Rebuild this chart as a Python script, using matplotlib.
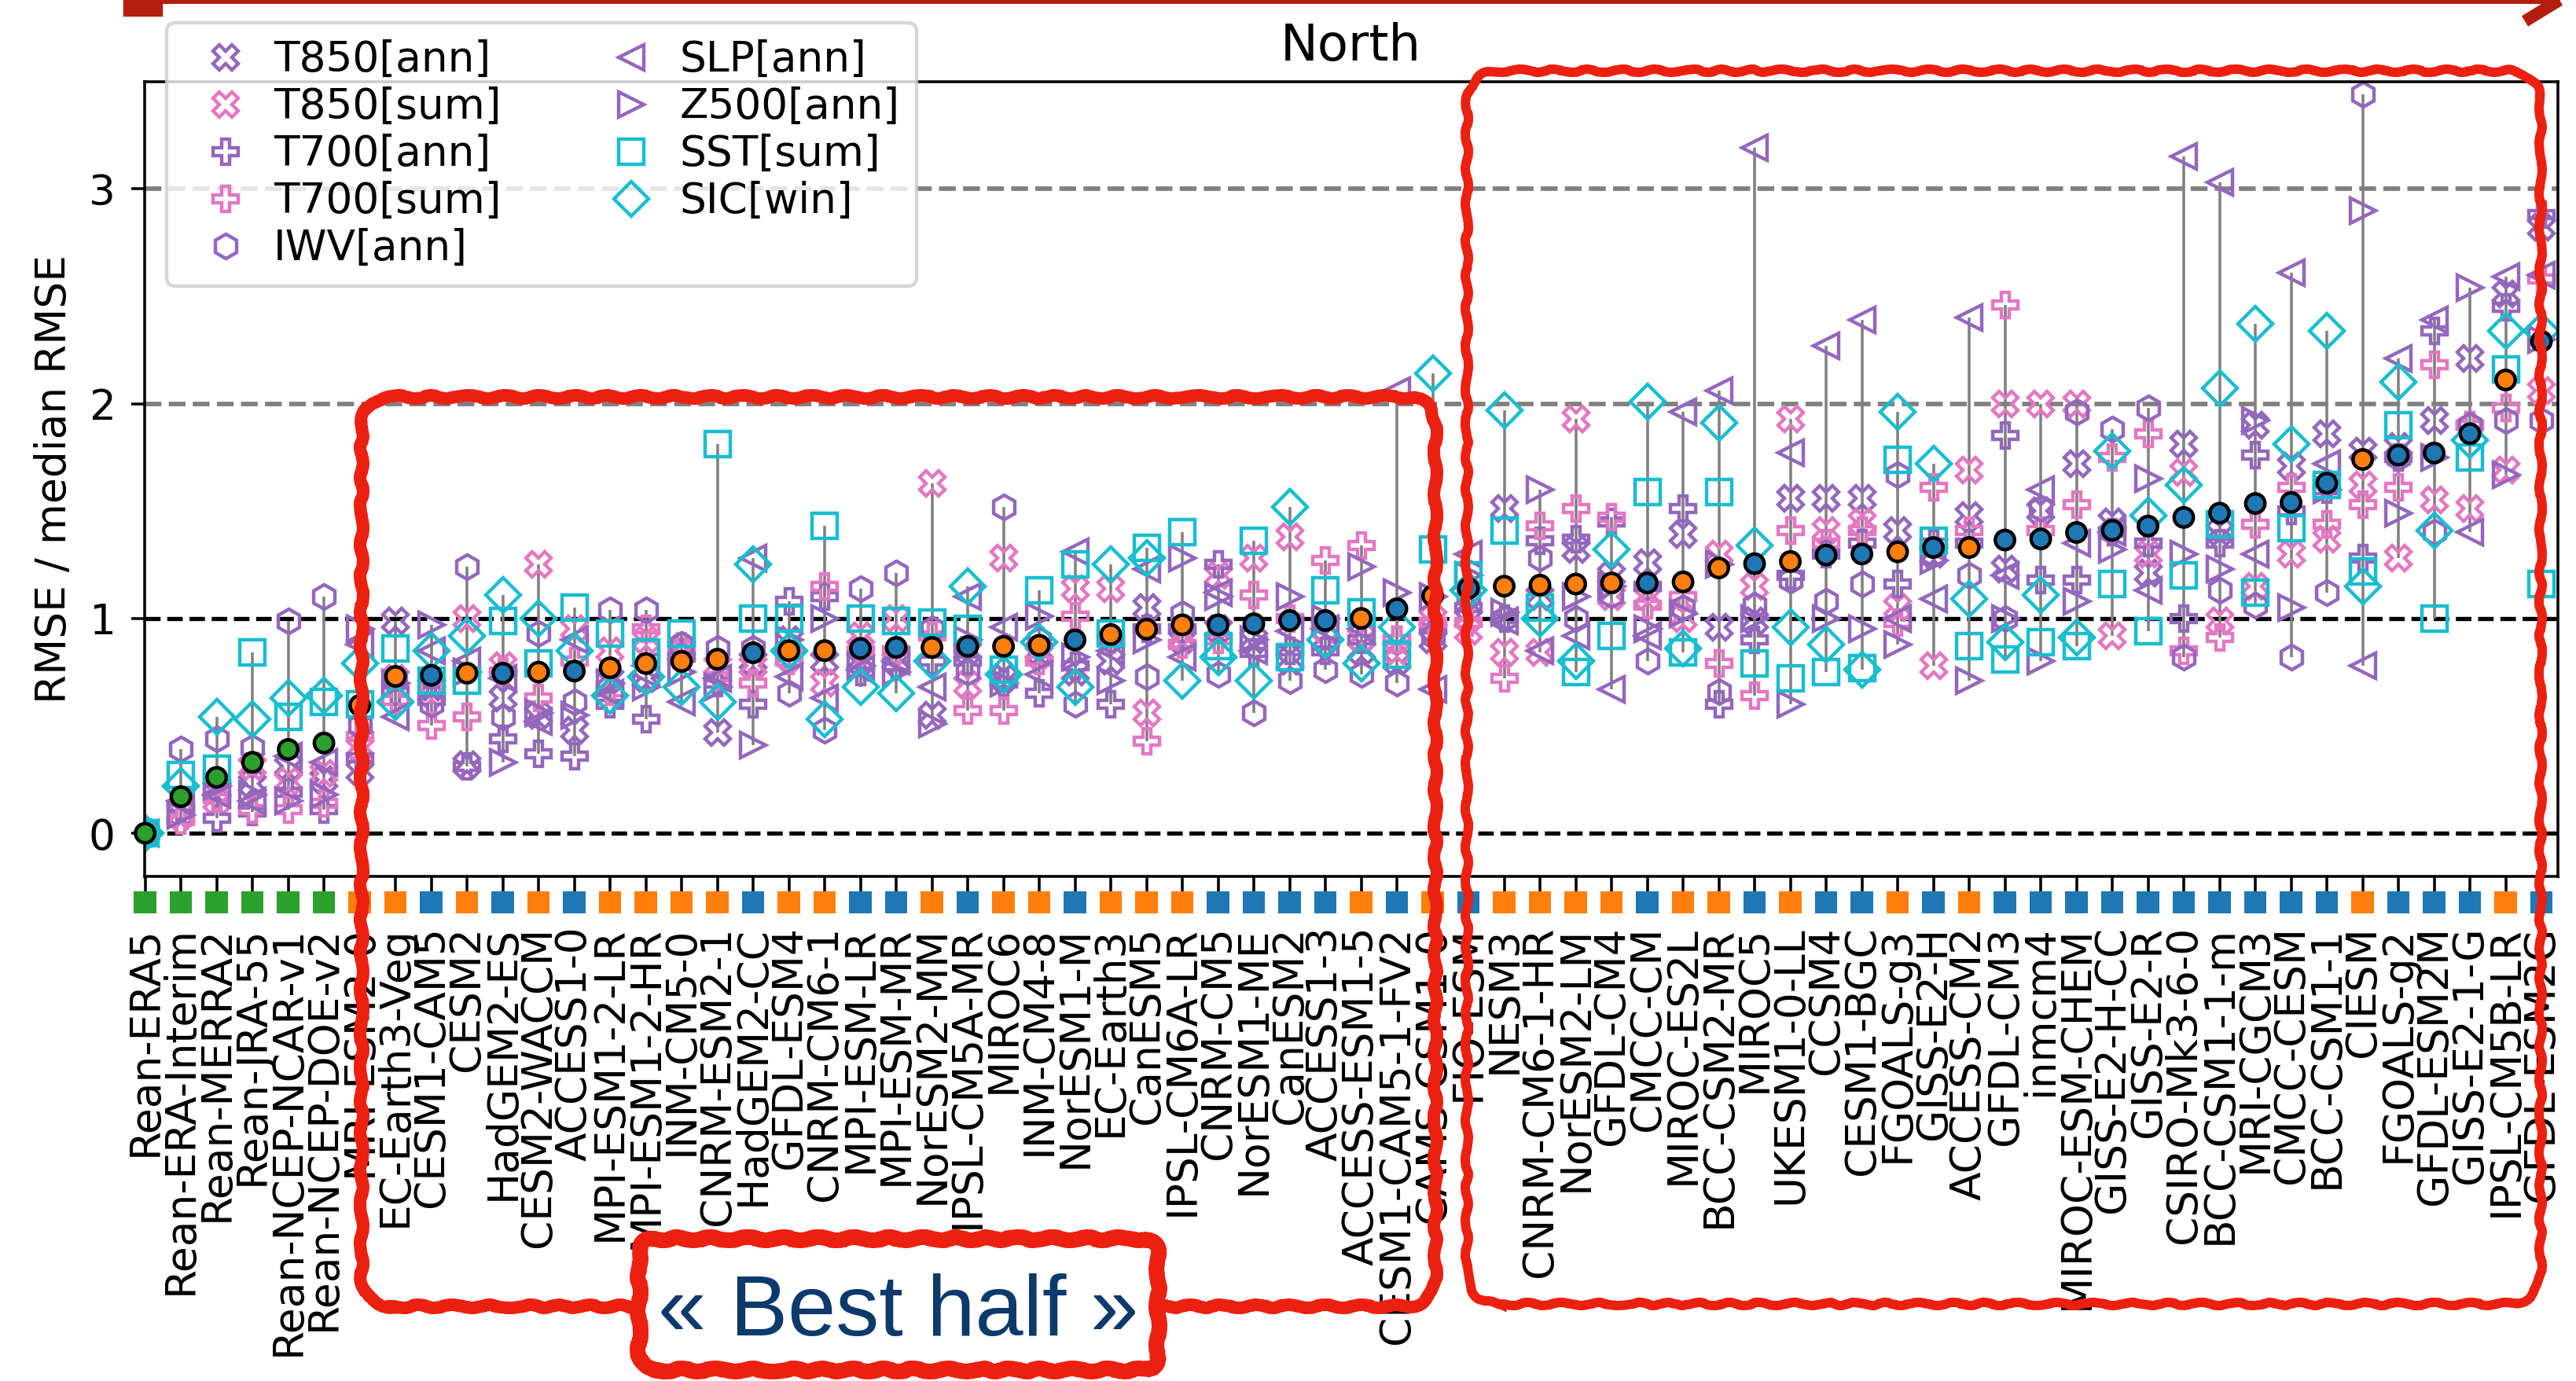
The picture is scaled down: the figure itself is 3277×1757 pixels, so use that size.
import numpy as np
import matplotlib
matplotlib.use('Agg')
import matplotlib.pyplot as plt
from matplotlib.patches import FancyBboxPatch, Rectangle
from matplotlib.lines import Line2D
from matplotlib.transforms import IdentityTransform

# models sorted by mean normalised RMSE (North)
models = ['Rean-ERA5', 'Rean-ERA-Interim', 'Rean-MERRA2', 'Rean-JRA-55', 'Rean-NCEP-NCAR-v1',
          'Rean-NCEP-DOE-v2', 'MRI-ESM2-0', 'EC-Earth3-Veg', 'CESM1-CAM5', 'CESM2',
          'HadGEM2-ES', 'CESM2-WACCM', 'ACCESS1-0', 'MPI-ESM1-2-LR', 'MPI-ESM1-2-HR',
          'INM-CM5-0', 'CNRM-ESM2-1', 'HadGEM2-CC', 'GFDL-ESM4', 'CNRM-CM6-1',
          'MPI-ESM-LR', 'MPI-ESM-MR', 'NorESM2-MM', 'IPSL-CM5A-MR', 'MIROC6',
          'INM-CM4-8', 'NorESM1-M', 'EC-Earth3', 'CanESM5', 'IPSL-CM6A-LR',
          'CNRM-CM5', 'NorESM1-ME', 'CanESM2', 'ACCESS1-3', 'ACCESS-ESM1-5',
          'CESM1-CAM5-1-FV2', 'CAMS-CSM1-0', 'FIO-ESM', 'NESM3', 'CNRM-CM6-1-HR',
          'NorESM2-LM', 'GFDL-CM4', 'CMCC-CM', 'MIROC-ES2L', 'BCC-CSM2-MR',
          'MIROC5', 'UKESM1-0-LL', 'CCSM4', 'CESM1-BGC', 'FGOALS-g3',
          'GISS-E2-H', 'ACCESS-CM2', 'GFDL-CM3', 'inmcm4', 'MIROC-ESM-CHEM',
          'GISS-E2-H-CC', 'GISS-E2-R', 'CSIRO-Mk3-6-0', 'BCC-CSM1-1-m', 'MRI-CGCM3',
          'CMCC-CESM', 'BCC-CSM1-1', 'CIESM', 'FGOALS-g2', 'GFDL-ESM2M',
          'GISS-E2-1-G', 'IPSL-CM5B-LR', 'GFDL-ESM2G']

# R = reanalysis, 6 = CMIP6, 5 = CMIP5
group = list('RRRRRR66565656666566556566566655556565666656656556565555555555655565')

mean_rmse = [0, 0.17, 0.26, 0.33, 0.39, 0.42, 0.595, 0.73, 0.735, 0.745,
             0.745, 0.75, 0.755, 0.77, 0.79, 0.80, 0.81, 0.84, 0.85, 0.85,
             0.86, 0.865, 0.865, 0.87, 0.87, 0.875, 0.90, 0.925, 0.95, 0.97,
             0.97, 0.975, 0.99, 0.99, 1.00, 1.045, 1.105, 1.14, 1.15, 1.155,
             1.16, 1.165, 1.165, 1.17, 1.235, 1.255, 1.265, 1.295, 1.30, 1.31,
             1.33, 1.33, 1.365, 1.37, 1.40, 1.41, 1.43, 1.47, 1.49, 1.535,
             1.54, 1.63, 1.74, 1.76, 1.77, 1.86, 2.11, 2.29]

t850_ann = [0, 0.10, 0.20, 0.23, 0.31, 0.25, 0.29, 0.99, 0.68, 0.32,
            0.63, 0.55, 0.48, 0.72, 0.72, 0.86, 0.47, 0.80, 0.90, 0.80,
            0.80, 0.80, 0.55, 0.85, 0.72, 0.85, 0.75, 0.80, 1.05, 0.90,
            0.95, 0.90, 0.80, 0.90, 0.85, 0.80, 0.90, 1.00, 1.51, 1.10,
            1.32, 1.20, 1.26, 1.39, 0.96, 0.99, 1.56, 1.56, 1.56, 1.41,
            1.30, 1.48, 1.23, 1.50, 1.72, 1.45, 1.21, 1.81, 1.40, 1.90,
            1.71, 1.86, 1.78, 1.80, 1.92, 2.21, 2.51, 2.82]
t850_sum = [0, 0.08, 0.15, 0.31, 0.24, 0.28, 0.40, 0.72, 0.65, 1.00,
            0.78, 1.25, 0.95, 0.85, 0.90, 0.84, 0.78, 0.78, 0.82, 0.70,
            0.92, 1.00, 1.63, 0.69, 1.28, 0.83, 1.14, 1.14, 0.56, 0.92,
            1.20, 1.28, 1.38, 0.95, 0.91, 0.85, 1.00, 0.94, 0.84, 0.84,
            1.93, 1.10, 1.10, 1.00, 1.30, 1.15, 1.93, 1.41, 1.45, 1.05,
            0.78, 1.69, 2.00, 2.00, 2.00, 0.92, 1.30, 1.68, 0.99, 1.15,
            1.30, 1.37, 1.62, 1.28, 1.55, 1.51, 1.69, 2.06]
t700_ann = [0, 0.12, 0.07, 0.10, 0.19, 0.11, 0.35, 0.66, 0.62, 0.31,
            0.44, 0.37, 0.36, 0.60, 0.53, 0.82, 0.70, 0.60, 1.08, 1.10,
            0.75, 0.78, 0.80, 0.80, 0.70, 0.65, 0.78, 0.60, 0.95, 0.95,
            1.25, 0.84, 0.85, 0.85, 0.90, 0.90, 0.95, 1.05, 1.00, 1.36,
            1.37, 1.45, 1.15, 1.51, 0.60, 0.90, 1.20, 1.30, 1.35, 1.16,
            1.35, 1.35, 1.85, 1.18, 1.18, 1.40, 1.35, 1.00, 1.35, 1.76,
            1.50, 1.60, 1.28, 1.75, 2.34, 1.90, 2.45, 2.88]
t700_sum = [0, 0.06, 0.16, 0.11, 0.11, 0.14, 0.45, 0.62, 0.50, 0.54,
            0.75, 0.63, 0.80, 0.66, 0.95, 0.87, 0.73, 0.70, 0.80, 1.15,
            0.85, 0.85, 0.92, 0.57, 0.57, 0.80, 1.01, 0.90, 0.43, 0.88,
            0.90, 1.11, 1.00, 1.27, 1.34, 0.90, 0.98, 0.98, 0.72, 1.43,
            1.51, 1.47, 1.06, 1.10, 0.79, 0.64, 1.41, 1.35, 1.41, 0.98,
            1.61, 1.41, 2.46, 1.41, 1.53, 1.75, 1.86, 0.85, 0.91, 1.44,
            1.61, 1.44, 1.53, 1.61, 2.18, 1.90, 1.98, 2.58]
iwv_ann = [0, 0.39, 0.44, 0.40, 0.99, 1.10, 0.50, 0.72, 0.60, 1.24,
           0.54, 0.93, 0.61, 1.04, 1.04, 0.88, 0.86, 0.86, 0.65, 0.48,
           1.14, 1.21, 0.95, 0.75, 1.52, 0.90, 0.60, 0.90, 0.73, 1.02,
           0.74, 0.56, 0.71, 0.76, 0.74, 0.70, 0.92, 1.10, 1.00, 1.28,
           1.00, 1.11, 0.80, 1.05, 0.66, 1.06, 1.18, 1.08, 1.16, 1.67,
           1.30, 1.20, 1.00, 1.51, 1.96, 1.88, 1.98, 0.82, 1.13, 1.06,
           0.82, 1.12, 3.44, 1.75, 1.40, 1.90, 1.92, 1.92]
slp_ann = [0, 0.15, 0.18, 0.15, 0.36, 0.33, 0.88, 0.54, 0.85, 0.80,
           0.72, 0.52, 0.90, 0.65, 0.78, 0.61, 0.72, 1.28, 0.73, 0.63,
           0.76, 0.80, 0.68, 1.10, 0.96, 0.74, 1.31, 0.85, 1.23, 0.82,
           1.12, 0.85, 0.94, 0.95, 0.95, 2.06, 0.67, 1.30, 0.99, 0.85,
           0.92, 0.67, 0.92, 1.96, 2.06, 3.19, 1.77, 2.27, 2.39, 1.00,
           1.09, 2.40, 1.20, 1.60, 1.35, 1.40, 1.13, 3.15, 3.03, 1.30,
           2.61, 1.72, 0.78, 2.21, 2.39, 1.40, 2.59, 2.60]
z500_ann = [0, 0.085, 0.22, 0.18, 0.15, 0.18, 0.95, 0.70, 0.97, 0.75,
            0.33, 0.56, 0.55, 0.70, 0.68, 0.75, 0.68, 0.41, 0.90, 1.00,
            0.78, 0.75, 0.51, 0.90, 0.70, 1.01, 0.82, 0.71, 0.90, 1.28,
            1.10, 0.90, 1.10, 1.00, 1.24, 1.12, 1.10, 1.20, 1.03, 1.60,
            1.10, 1.15, 0.95, 1.02, 1.25, 1.00, 0.60, 1.00, 0.95, 0.88,
            1.27, 0.71, 1.00, 0.80, 1.08, 1.32, 1.65, 1.30, 1.23, 1.92,
            1.05, 1.60, 2.90, 1.49, 1.75, 2.54, 1.67, 2.30]
sst_sum = [0, 0.27, 0.30, 0.84, 0.54, 0.61, 0.60, 0.86, 0.71, 0.71,
           0.99, 0.79, 1.05, 0.93, 0.84, 0.93, 1.81, 1.00, 1.00, 1.43,
           1.00, 0.99, 0.98, 0.95, 0.76, 1.13, 1.25, 0.93, 1.33, 1.40,
           0.87, 1.36, 0.82, 1.13, 1.03, 0.83, 1.32, 1.20, 1.41, 1.05,
           0.75, 0.92, 1.59, 0.84, 1.59, 0.79, 0.72, 0.75, 0.77, 1.74,
           1.36, 0.87, 0.81, 0.89, 0.87, 1.16, 0.94, 1.20, 1.44, 1.12,
           1.42, 1.62, 1.22, 1.90, 1.00, 1.75, 2.16, 1.16]
sic_win = [0, 0.22, 0.54, 0.53, 0.63, 0.64, 0.79, 0.61, 0.85, 0.92,
           1.11, 1.00, 0.85, 0.64, 0.73, 0.68, 0.61, 1.25, 0.85, 0.53,
           0.68, 0.65, 0.80, 1.15, 0.74, 0.89, 0.68, 1.25, 1.28, 0.71,
           0.82, 0.71, 1.52, 0.90, 0.79, 0.96, 2.14, 1.13, 1.97, 1.00,
           0.80, 1.32, 2.01, 0.86, 1.91, 1.34, 0.96, 0.88, 0.76, 1.96,
           1.72, 1.09, 0.89, 1.11, 0.91, 1.78, 1.48, 1.62, 2.07, 2.37,
           1.81, 2.34, 1.15, 2.10, 1.41, 1.83, 2.34, 2.34]

purple, pink, cyan = 'tab:purple', 'tab:pink', 'tab:cyan'
variables = [('T850[ann]', t850_ann, 'X', purple),
             ('T850[sum]', t850_sum, 'X', pink),
             ('T700[ann]', t700_ann, 'P', purple),
             ('T700[sum]', t700_sum, 'P', pink),
             ('IWV[ann]', iwv_ann, 'h', purple),
             ('SLP[ann]', slp_ann, '<', purple),
             ('Z500[ann]', z500_ann, '>', purple),
             ('SST[sum]', sst_sum, 's', cyan),
             ('SIC[win]', sic_win, 'D', cyan)]
group_colors = {'R': 'tab:green', '6': 'tab:orange', '5': 'tab:blue'}

W, H, DPI = 3277, 1757, 320
plt.rcParams['font.size'] = 12

fig = plt.figure(figsize=(W / DPI, H / DPI), dpi=DPI)
ax = fig.add_axes([183.7 / W, 1 - 1114.7 / H, 3069.8 / W, 1011.1 / H])

x = np.arange(len(models))
allvals = np.array([v[1] for v in variables])

ax.axhline(0, color='k', ls='--', lw=1.2, zorder=0.5)
ax.axhline(1, color='k', ls='--', lw=1.2, zorder=0.5)
ax.axhline(2, color='gray', ls='--', lw=1.3, zorder=0.5)
ax.axhline(3, color='gray', ls='--', lw=1.3, zorder=0.5)

ax.vlines(x, allvals.min(axis=0), allvals.max(axis=0), colors='gray', lw=0.8, zorder=1)

for name, vals, mk, col in variables:
    ax.plot(x, vals, ls='none', marker=mk, ms=7, mfc='none', mec=col, mew=1.0,
            label=name, zorder=2)

dot_cols = [group_colors[g] for g in group]
ax.scatter(x, mean_rmse, s=5.5 ** 2, c=dot_cols, edgecolors='k', linewidths=1.0,
           zorder=4, clip_on=False)

# coloured squares below the axis marking the dataset type
ax.scatter(x, np.full(len(x), -0.033), s=6.4 ** 2, marker='s', c=dot_cols,
           linewidths=0, transform=ax.get_xaxis_transform(), clip_on=False, zorder=3)

ax.set_xlim(-0.02, 67.45)
ax.set_ylim(-0.2, 3.5)
ax.set_yticks([0, 1, 2, 3])
ax.set_xticks(x)
ax.set_xticklabels(models, rotation=90)
ax.tick_params(axis='x', length=4.3, pad=10)
ax.tick_params(axis='y', length=3.8, pad=4.5)
ax.set_ylabel('RMSE / median RMSE')
ax.set_title('North', fontsize='large')

ax.legend(ncol=2, loc='upper left', bbox_to_anchor=(212 / W, 1 - 29 / H),
          bbox_transform=fig.transFigure, borderaxespad=0, labelspacing=0.15,
          handletextpad=0.15, columnspacing=2.1)

# red hand-drawn annotations (pixel coordinates, origin bottom-left)
red = '#ec2010'
pix = IdentityTransform()

boxA = FancyBboxPatch((460, H - 1662), 1366, 1157, boxstyle='round,pad=0,rounding_size=40',
                      transform=pix, fc='none', ec=red, lw=3.6, zorder=10)
boxB = FancyBboxPatch((1866, H - 1659), 1366, 1569, boxstyle='round,pad=0,rounding_size=45',
                      transform=pix, fc='none', ec=red, lw=2.7, zorder=10)
boxC = FancyBboxPatch((813, H - 1743), 660, 167, boxstyle='round,pad=0,rounding_size=22',
                      transform=pix, fc='white', ec=red, lw=4.5, zorder=11)
for p in (boxA, boxB, boxC):
    p.set_sketch_params(2.0, 60, 4)
    fig.add_artist(p)

fig.text(1143, H - 1699, '\u00ab Best half \u00bb', transform=pix, ha='center',
         va='baseline', fontsize=24.75, color='#0b3a6b',
         family=['Liberation Sans', 'DejaVu Sans'], zorder=12)

dark = '#b41c0e'
fig.add_artist(Line2D([205, 3252], [H, H], transform=pix, color=dark, lw=2.0, zorder=10))
fig.add_artist(Rectangle((159, H - 19), 46, 19, transform=pix, color=dark, zorder=10))
fig.add_artist(Line2D([3256, 3212], [H, H - 27], transform=pix, color=dark, lw=3.5,
                      solid_capstyle='butt', zorder=10))

fig.savefig('out.png', dpi=DPI)
